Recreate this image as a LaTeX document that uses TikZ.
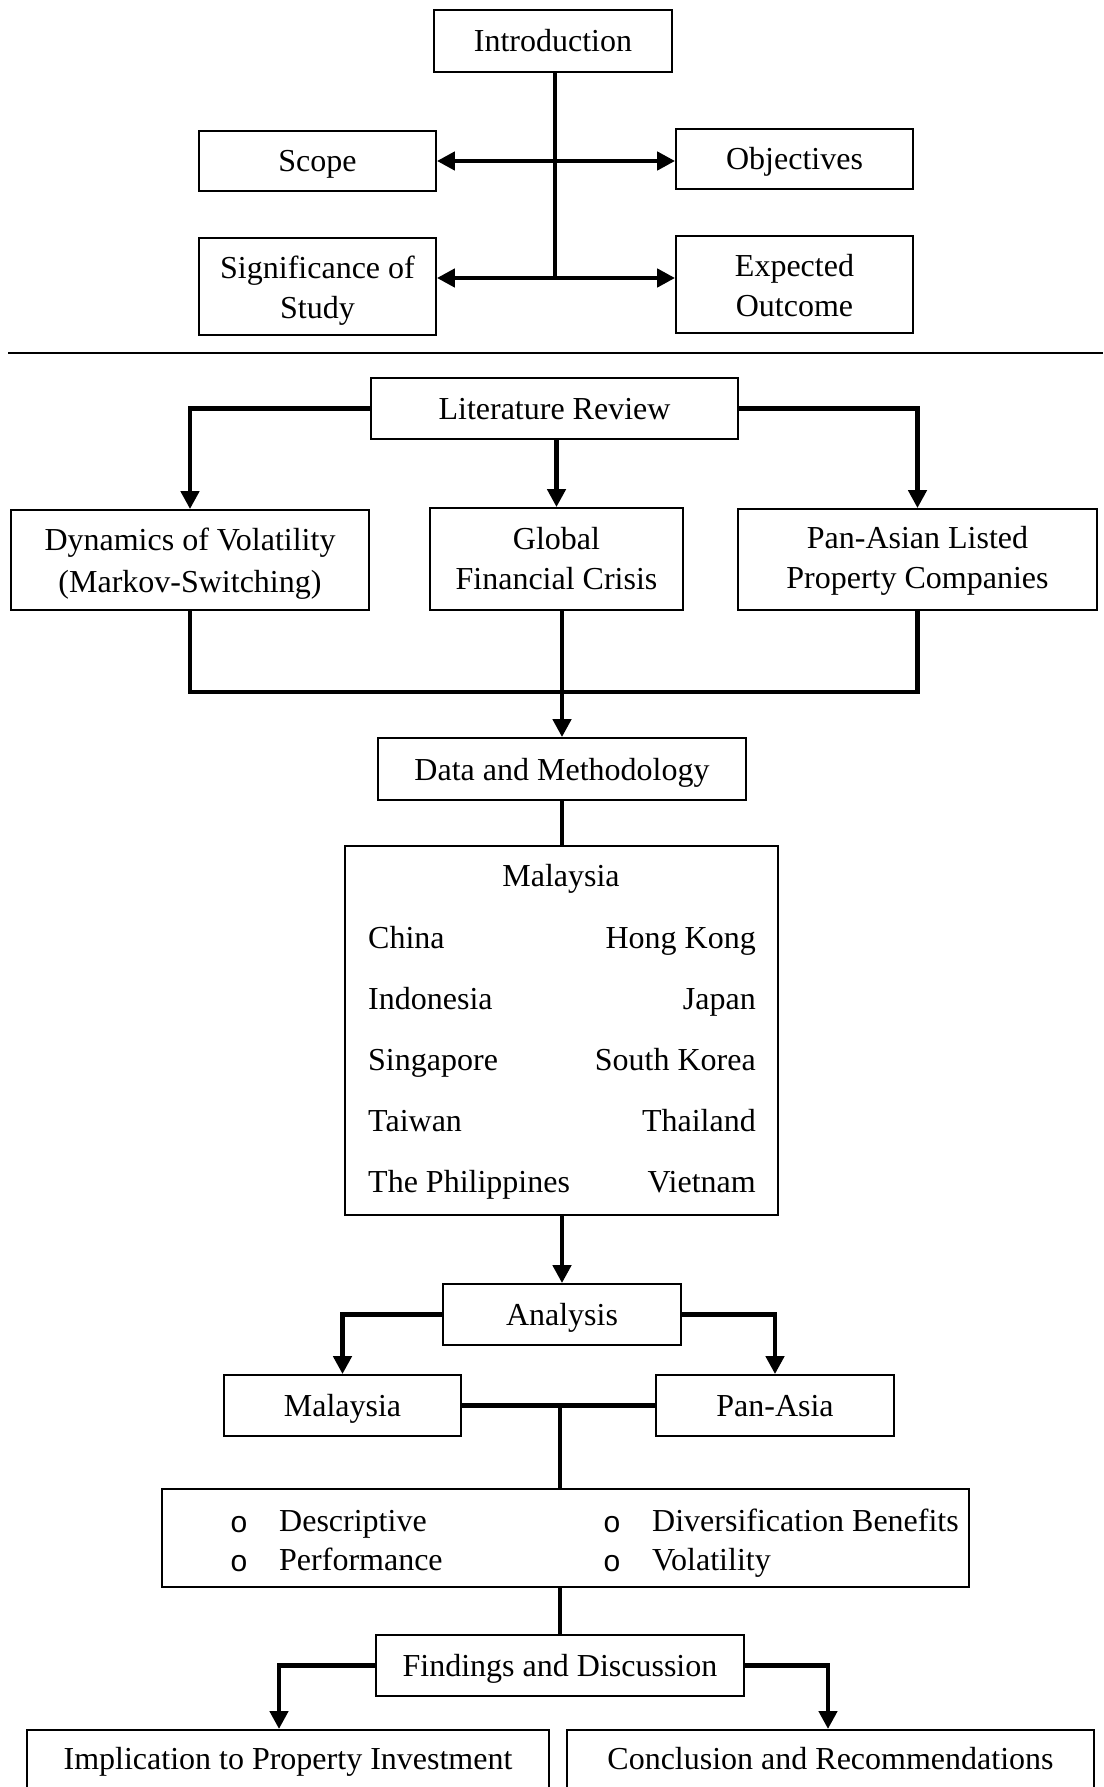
\documentclass[tikz,border=0pt]{standalone}
\usepackage{fontspec}
\setmainfont{Liberation Serif}
\newfontfamily\bulfont{Liberation Sans}
\usetikzlibrary{arrows.meta}
\begin{document}
\begin{tikzpicture}[x=1pt,y=-1pt,
  box/.style={draw, line width=1.8pt, inner sep=0pt, align=center, font=\fontsize{32}{40}\selectfont},
  sl/.style={text height=26pt, text depth=4pt},
  txt/.style={inner sep=0pt, font=\fontsize{32}{40}\selectfont, text height=26pt, text depth=4pt},
  mtxt/.style={inner sep=0pt, align=center},
  conn/.style={line width=4.5pt},
  arr/.style={line width=4.5pt, -{Triangle[length=18pt,width=18pt]}},
  dbl/.style={line width=4.5pt, {Triangle[length=18pt,width=18pt]}-{Triangle[length=18pt,width=18pt]}},
  bul/.style={inner sep=0pt, font=\bulfont\fontsize{30}{30}\selectfont, text height=26pt, text depth=4pt},
]
\useasboundingbox (0,0) rectangle (1103,1787);
\clip (0,0) rectangle (1103,1787);
\fill[white] (0,0) rectangle (1103,1787);

% Part 1
\node[box, sl, minimum width=238pt, minimum height=62pt] (intro) at (553,41) {Introduction};
\node[box, sl, minimum width=237pt, minimum height=60pt] (scope) at (317.5,161) {Scope};
\node[box, sl, minimum width=237pt, minimum height=60pt] (obj) at (794.5,159) {Objectives};
\node[box, minimum width=237pt, minimum height=97pt] (sig) at (317.5,286.5) {};
\node[box, minimum width=237pt, minimum height=97pt] (exp) at (794.5,284.5) {};
\node[box, draw=none, mtxt] (sigt) at (317.5,290.5) {Significance of\\Study};
\node[box, draw=none, mtxt] (expt) at (794.5,286) {Expected\\Outcome};
\coordinate (j2) at (555,278);
\draw[conn] (intro.south -| j2) -- (j2);
\draw[dbl] (scope.east) -- (scope.east -| obj.west);
\draw[dbl] (j2 -| sig.east) -- (j2 -| exp.west);

\coordinate (r1) at (8,353);
\coordinate (r2) at (1103,353);
\draw[line width=2.5pt] (r1) -- (r2);

% Part 2
\node[box, sl, minimum width=367pt, minimum height=61pt] (lit) at (554.5,408.5) {Literature Review};
\node[box, minimum width=358pt, minimum height=100pt] (dyn) at (190,560) {};
\node[box, minimum width=253pt, minimum height=102pt] (glob) at (556.5,559) {};
\node[box, minimum width=359pt, minimum height=101pt] (pan) at (917.5,559.5) {};
\node[box, draw=none, mtxt, font=\fontsize{32}{42}\selectfont] (dynt) at (190,564) {Dynamics of Volatility\\(Markov-Switching)};
\node[box, draw=none, mtxt] (globt) at (556.5,559) {Global\\Financial Crisis};
\node[box, draw=none, mtxt] (pant) at (917.5,561) {Pan-Asian Listed\\Property Companies};
\draw[arr] (lit.west) -| (dyn.north);
\draw[arr] (lit.east) -| (pan.north);
\draw[arr] (lit.south -| glob.north) -- (glob.north);

\node[box, sl, minimum width=368pt, minimum height=62pt] (data) at (562,769) {Data and Methodology};
\coordinate (bus) at (562,692);
\draw[conn] (dyn.south) |- (bus) -| (pan.south);
\draw[arr] (glob.south -| data.north) -- (data.north);

\node[box, minimum width=433pt, minimum height=369pt] (ctry) at (561.5,1030.5) {};
\draw[conn] (data.south) -- (data.south |- ctry.north);
\node[txt] (c0) at (561,875) {Malaysia};
\node[txt, anchor=west] (c1) at (368,937) {China};
\node[txt, anchor=west] (c2) at (368,998) {Indonesia};
\node[txt, anchor=west] (c3) at (368,1059) {Singapore};
\node[txt, anchor=west] (c4) at (368,1120) {Taiwan};
\node[txt, anchor=west] (c5) at (368,1181) {The Philippines};
\node[txt, anchor=east] (d1) at (756,937) {Hong Kong};
\node[txt, anchor=east] (d2) at (756,998) {Japan};
\node[txt, anchor=east] (d3) at (756,1059) {South Korea};
\node[txt, anchor=east] (d4) at (756,1120) {Thailand};
\node[txt, anchor=east] (d5) at (756,1181) {Vietnam};

\node[box, sl, minimum width=238pt, minimum height=61pt] (ana) at (562,1314.5) {Analysis};
\draw[arr] (ctry.south -| data.south) -- (ana.north);
\node[box, sl, minimum width=237pt, minimum height=61pt] (mal) at (342.5,1405.5) {Malaysia};
\node[box, sl, minimum width=238pt, minimum height=61pt] (pa) at (775,1405.5) {Pan-Asia};
\draw[arr] (ana.west) -| (mal.north);
\draw[arr] (ana.east) -| (pa.north);
\coordinate (j3) at (560,1405.5);
\draw[conn] (mal.east) -- (pa.west);

\node[box, minimum width=807pt, minimum height=98pt] (meth) at (565.5,1538) {};
\draw[conn] (j3) -- (j3 |- meth.north);
\node[bul] (b1) at (239,1521) {o};
\node[bul] (b2) at (239,1560) {o};
\node[bul] (b3) at (612,1521) {o};
\node[bul] (b4) at (612,1560) {o};
\node[txt, anchor=west] (m1) at (279,1520) {Descriptive};
\node[txt, anchor=west] (m2) at (279,1559) {Performance};
\node[txt, anchor=west] (m3) at (652,1520) {Diversification Benefits};
\node[txt, anchor=west] (m4) at (652,1559) {Volatility};

\node[box, sl, minimum width=368pt, minimum height=61pt] (find) at (560,1665.5) {Findings and Discussion};
\draw[conn] (meth.south -| j3) -- (find.north -| j3);

\node[box, minimum width=522pt, minimum height=100pt, anchor=north] (impl) at (288,1729) {};
\node[box, minimum width=527pt, minimum height=100pt, anchor=north] (conc) at (830.5,1729) {};
\node[txt] (implt) at (288,1758) {Implication to Property Investment};
\node[txt] (conct) at (830.5,1758) {Conclusion and Recommendations};
\coordinate (ia) at (279,1729);
\coordinate (ca) at (828,1729);
\draw[arr] (find.west) -| (ia);
\draw[arr] (find.east) -| (ca);
\end{tikzpicture}
\end{document}
